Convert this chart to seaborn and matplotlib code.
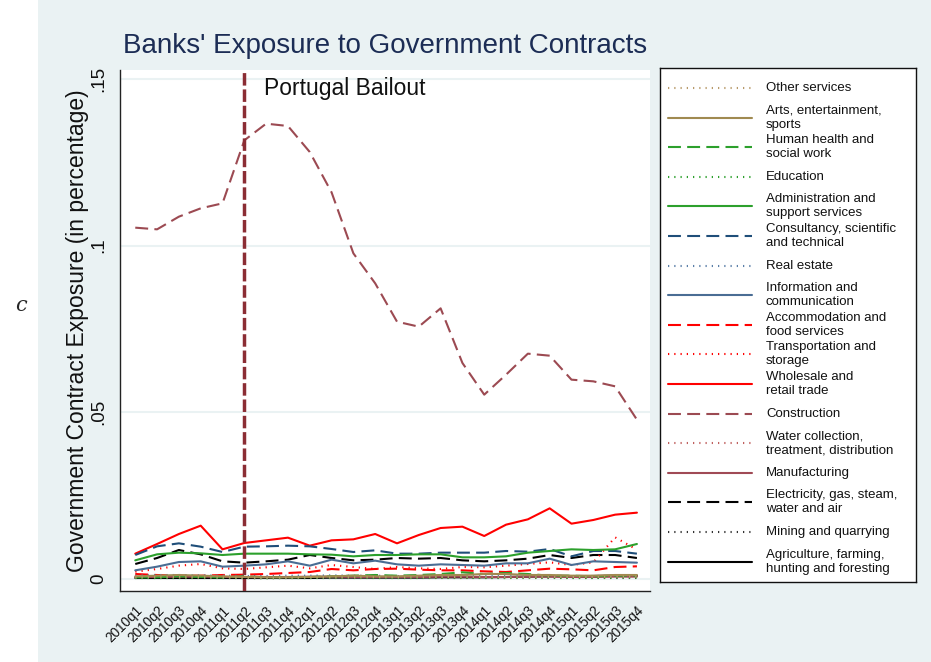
import matplotlib
matplotlib.use("Agg")
import matplotlib.pyplot as plt
from matplotlib.patches import Rectangle
import numpy as np
import pandas as pd
import seaborn as sns

quarters = [f"{y}q{q}" for y in range(2010, 2016) for q in range(1, 5)]

other_services = [0.0005, 0.0006, 0.0006, 0.0005, 0.0005, 0.0004, 0.0004, 0.0004, 0.0005, 0.0005, 0.0005, 0.0006,
                  0.0005, 0.0005, 0.0006, 0.0006, 0.0006, 0.0005, 0.0005, 0.0006, 0.0006, 0.0006, 0.0007, 0.0007]
arts = [0.0008, 0.0010, 0.0012, 0.0010, 0.0008, 0.0006, 0.0005, 0.0005, 0.0006, 0.0008, 0.0010, 0.0008,
        0.0008, 0.0010, 0.0012, 0.0012, 0.0015, 0.0015, 0.0012, 0.0012, 0.0010, 0.0010, 0.0012, 0.0012]
human_health = [0.0005, 0.0005, 0.0008, 0.0006, 0.0005, 0.0008, 0.0005, 0.0005, 0.0006, 0.0008, 0.0010, 0.0012,
                0.0010, 0.0012, 0.0015, 0.0020, 0.0015, 0.0018, 0.0015, 0.0010, 0.0010, 0.0008, 0.0010, 0.0010]
education = [0.0003, 0.0003, 0.0003, 0.0004, 0.0003, 0.0003, 0.0002, 0.0003, 0.0003, 0.0003, 0.0004, 0.0003,
             0.0003, 0.0003, 0.0004, 0.0004, 0.0003, 0.0003, 0.0004, 0.0004, 0.0003, 0.0003, 0.0004, 0.0004]
administration = [0.0056, 0.0074, 0.0079, 0.0077, 0.0072, 0.0076, 0.0076, 0.0076, 0.0074, 0.0073, 0.0068, 0.0072,
                  0.0072, 0.0074, 0.0074, 0.0065, 0.0065, 0.0068, 0.0079, 0.0084, 0.0089, 0.0087, 0.0089, 0.0105]
consultancy = [0.0072, 0.0098, 0.0107, 0.0097, 0.0081, 0.0097, 0.0098, 0.0100, 0.0098, 0.0090, 0.0081, 0.0086,
               0.0076, 0.0076, 0.0079, 0.0079, 0.0079, 0.0084, 0.0082, 0.0090, 0.0068, 0.0084, 0.0084, 0.0076]
real_estate = [0.0010, 0.0012, 0.0012, 0.0011, 0.0010, 0.0009, 0.0009, 0.0010, 0.0010, 0.0011, 0.0010, 0.0010,
               0.0009, 0.0009, 0.0010, 0.0010, 0.0009, 0.0009, 0.0010, 0.0010, 0.0009, 0.0009, 0.0010, 0.0010]
information = [0.0026, 0.0037, 0.0051, 0.0053, 0.0037, 0.0040, 0.0044, 0.0053, 0.0040, 0.0058, 0.0047, 0.0055,
               0.0044, 0.0040, 0.0044, 0.0042, 0.0040, 0.0047, 0.0047, 0.0061, 0.0042, 0.0053, 0.0051, 0.0049]
accommodation = [0.0015, 0.0012, 0.0010, 0.0010, 0.0012, 0.0013, 0.0015, 0.0018, 0.0021, 0.0030, 0.0026, 0.0030,
                 0.0031, 0.0028, 0.0026, 0.0026, 0.0023, 0.0021, 0.0026, 0.0031, 0.0029, 0.0026, 0.0036, 0.0038]
transportation = [0.0022, 0.0030, 0.0040, 0.0045, 0.0032, 0.0030, 0.0035, 0.0040, 0.0032, 0.0042, 0.0036, 0.0030,
                  0.0036, 0.0032, 0.0030, 0.0036, 0.0035, 0.0040, 0.0045, 0.0050, 0.0042, 0.0050, 0.0125, 0.0088]
wholesale = [0.0076, 0.0105, 0.0135, 0.0160, 0.0089, 0.0108, 0.0116, 0.0124, 0.0100, 0.0116, 0.0119, 0.0135,
             0.0107, 0.0132, 0.0153, 0.0157, 0.0129, 0.0163, 0.0179, 0.0212, 0.0166, 0.0177, 0.0193, 0.0199]
construction = [0.1054, 0.1049, 0.1087, 0.1112, 0.1127, 0.1316, 0.1366, 0.1359, 0.1281, 0.1160, 0.0977, 0.0887,
                0.0772, 0.0757, 0.0812, 0.0648, 0.0553, 0.0613, 0.0676, 0.0670, 0.0598, 0.0593, 0.0578, 0.0478]
water = [0.0004, 0.0004, 0.0005, 0.0005, 0.0004, 0.0004, 0.0004, 0.0005, 0.0005, 0.0004, 0.0004, 0.0005,
         0.0005, 0.0005, 0.0004, 0.0004, 0.0004, 0.0005, 0.0005, 0.0005, 0.0004, 0.0004, 0.0005, 0.0005]
manufacturing = [0.0006, 0.0006, 0.0007, 0.0007, 0.0006, 0.0006, 0.0006, 0.0006, 0.0007, 0.0007, 0.0006, 0.0006,
                 0.0006, 0.0006, 0.0007, 0.0007, 0.0006, 0.0006, 0.0007, 0.0007, 0.0006, 0.0006, 0.0007, 0.0007]
electricity = [0.0045, 0.0063, 0.0087, 0.0074, 0.0053, 0.0049, 0.0053, 0.0058, 0.0072, 0.0063, 0.0056, 0.0058,
               0.0063, 0.0061, 0.0063, 0.0056, 0.0053, 0.0056, 0.0061, 0.0072, 0.0063, 0.0072, 0.0072, 0.0063]
mining = [0.0002, 0.0002, 0.0002, 0.0002, 0.0002, 0.0002, 0.0002, 0.0002, 0.0002, 0.0002, 0.0002, 0.0002,
          0.0002, 0.0002, 0.0002, 0.0002, 0.0002, 0.0002, 0.0002, 0.0002, 0.0002, 0.0002, 0.0002, 0.0002]
agriculture = [0.0003, 0.0003, 0.0003, 0.0003, 0.0003, 0.0003, 0.0003, 0.0003, 0.0003, 0.0004, 0.0004, 0.0004,
               0.0004, 0.0004, 0.0005, 0.0005, 0.0005, 0.0006, 0.0007, 0.0008, 0.0008, 0.0009, 0.0010, 0.0010]

sectors = ["Other services", "Arts, entertainment,\nsports", "Human health and\nsocial work", "Education",
           "Administration and\nsupport services", "Consultancy, scientific\nand technical", "Real estate",
           "Information and\ncommunication", "Accommodation and\nfood services", "Transportation and\nstorage",
           "Wholesale and\nretail trade", "Construction", "Water collection,\ntreatment, distribution",
           "Manufacturing", "Electricity, gas, steam,\nwater and air", "Mining and quarrying",
           "Agriculture, farming,\nhunting and foresting"]
series = [other_services, arts, human_health, education, administration, consultancy, real_estate, information,
          accommodation, transportation, wholesale, construction, water, manufacturing, electricity, mining,
          agriculture]

colors = ["#b89a6a", "#a08a50", "#2ca02c", "#2ca02c", "#2ca02c", "#1f4e79", "#5a7fa8", "#4a6d94",
          "#ff0000", "#ff0000", "#ff0000", "#9c4a52", "#c0605f", "#a04a55", "#000000", "#333333", "#000000"]
solid, dash, dot = "", (6.2, 3.0), (0.6, 2.4)
styles = [dot, solid, dash, dot, solid, dash, dot, solid, dash, dot, solid, dash, dot, solid, dash, dot, solid]

df = pd.DataFrame([(s, i, v) for s, vals in zip(sectors, series) for i, v in enumerate(vals)],
                  columns=["sector", "t", "value"])

sns.set_style("white")
plt.rcParams["font.family"] = ["Liberation Sans", "DejaVu Sans"]

bg = "#eaf2f3"
fig = plt.figure(figsize=(9.31, 6.62), dpi=100)
fig.patch.set_facecolor("white")
fig.patches.append(Rectangle((38 / 931, 0), 1 - 38 / 931, 1, transform=fig.transFigure,
                             facecolor=bg, edgecolor="none", zorder=-10))

ax = fig.add_axes([120 / 931, (662 - 591) / 662, 530 / 931, (591 - 70) / 662])
ax.set_facecolor("white")

sns.lineplot(data=df, x="t", y="value", hue="sector", style="sector",
             palette=dict(zip(sectors, colors)), dashes=dict(zip(sectors, styles)),
             hue_order=sectors[::-1], linewidth=1.5, legend=False, ax=ax)

ax.axvline(5, color="#8b2d34", lw=2.5, dashes=(3.6, 1.1), zorder=5)
ax.text(5.9, 0.147, "Portugal Bailout", fontsize=16.5, va="center", color="#111111")

ax.set_xlim(-0.7, 23.6)
ax.set_ylim(-0.0036, 0.1527)
ax.set_xticks(range(len(quarters)))
ax.set_xticklabels(quarters, rotation=45, ha="right", rotation_mode="anchor", fontsize=9.8)
ax.set_yticks([0, 0.05, 0.1, 0.15])
ax.set_yticklabels(["0", ".05", ".1", ".15"], rotation=90, va="center", fontsize=13.5)
ax.tick_params(axis="both", direction="out", length=6, width=1, color="#222222", labelcolor="#111111")
ax.tick_params(axis="x", pad=3)
ax.yaxis.grid(True, color=bg, lw=1.5)
ax.set_axisbelow(True)
for side in ["top", "right"]:
    ax.spines[side].set_visible(False)
for side in ["left", "bottom"]:
    ax.spines[side].set_color("#222222")
    ax.spines[side].set_linewidth(1)

ax.set_xlabel("")
ax.set_ylabel("Government Contract Exposure (in percentage)", fontsize=16.5, color="#111111")
ax.yaxis.set_label_coords(-0.058, 0.5)
ax.set_title("Banks' Exposure to Government Contracts", fontsize=20, color="#1c2d55", pad=12)

# legend panel
lax = fig.add_axes([660 / 931, (662 - 582) / 662, 256 / 931, 514 / 662])
lax.set_facecolor("white")
lax.set_xlim(0, 1)
lax.set_ylim(0, 1)
lax.set_xticks([])
lax.set_yticks([])
for sp in lax.spines.values():
    sp.set_color("#111111")
    sp.set_linewidth(1)
step = 29.6 / 514
for k, (lab, col, st) in enumerate(zip(sectors, colors, styles)):
    yy = 1 - 20 / 514 - k * step
    ln, = lax.plot([0.031, 0.359], [yy, yy], color=col, lw=1.5)
    if st:
        ln.set_dashes(st)
    lax.text(0.414, yy, lab, fontsize=9.5, va="center", ha="left", linespacing=1.22, color="#111111")

fig.text(0.016, 0.539, "c", fontsize=15, style="italic", family="DejaVu Serif", va="center")

fig.savefig("out.png", dpi=100)
